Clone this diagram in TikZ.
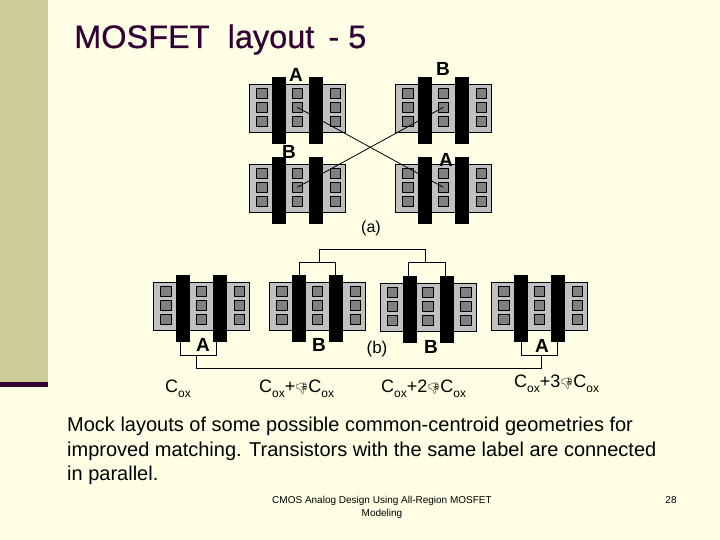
\documentclass[tikz,border=0pt]{standalone}
\usepackage{fontspec}
\setmainfont{Liberation Sans}
\newfontfamily\emojifont{Noto Emoji}
\newfontfamily\titlefont[FakeBold=0.6]{Liberation Sans}
\definecolor{bgc}{HTML}{FFFFE5}
\definecolor{barc}{HTML}{CCCC99}
\definecolor{darkp}{HTML}{330033}
\definecolor{plate}{HTML}{C0C0C0}
\definecolor{cont}{HTML}{808080}
\tikzset{
 plate/.style={draw=black,line width=.6pt,fill=plate,minimum width=96.4pt,minimum height=48.4pt,inner sep=0pt,outer sep=0pt},
 gatebar/.style={fill=black,minimum height=67pt,inner sep=0pt,outer sep=0pt},
 contact/.style={draw=black,line width=.6pt,fill=cont,minimum size=10.6pt,inner sep=0pt,outer sep=0pt},
 wire/.style={draw=black,line width=.8pt},
 lab/.style={inner sep=0pt,font=\fontsize{19}{19}\selectfont\bfseries},
 capl/.style={inner sep=0pt,anchor=base,font=\fontsize{18}{18}\selectfont},
 plain/.style={inner sep=0pt,font=\fontsize{16}{16}\selectfont},
}
\newcommand{\Tr}[3]{%
 \node[plate,anchor=north west] (#1) at (#2,#3) {};
 \foreach \cx/\nx in {12.4/l,48/m,86/r}{
  \foreach \cy/\ny in {9/t,23/c,37/b}{
   \node[contact] (#1\nx\ny) at ($(#1.north west)+(\cx,\cy)$) {};
  }
 }
 \node[gatebar,minimum width=14pt] (#1g) at ($(#1.north west)+(30,25.8)$) {};
 \node[gatebar,minimum width=14pt] (#1h) at ($(#1.north west)+(66.5,25.8)$) {};
}
\newcommand{\Cx}{C\raisebox{-.32em}{\fontsize{12}{12}\selectfont ox}}
\newcommand{\Dl}{{\emojifont\fontsize{11}{11}\selectfont\kern-.5pt\symbol{"1F44E}\kern-.5pt}}
\usetikzlibrary{calc}
\begin{document}
\begin{tikzpicture}[x=1pt,y=-1pt]
\useasboundingbox (0,0) rectangle (720,540);
\fill[bgc] (0,0) rectangle (720,540);
\fill[barc] (0,0) rectangle (48,382);
\fill[darkp] (0,382) rectangle (48,387);
\node[inner sep=0pt,anchor=base west,text=darkp,font=\fontsize{32.5}{33}\titlefont] (title) at (74,48) {MOSFET\ \ layout\kern5pt\ - 5};

\Tr{aa}{249.3}{84.3}
\Tr{ab}{395.3}{84.3}
\Tr{ac}{249.3}{164.3}
\Tr{ad}{395.3}{164.3}
\Tr{ba}{153.3}{282.3}
\Tr{bb}{269.3}{282.3}
\Tr{bc}{380}{283.3}
\Tr{bd}{491.3}{282.3}

\draw[wire] (aamc.center) -- (admc.center);
\draw[wire] (abmc.center) -- (acmc.center);

\coordinate (j1) at (180.3,355.3);
\coordinate (j2) at (216.3,355.3);
\coordinate (j3) at (521.3,355.3);
\coordinate (j4) at (557.3,355.3);
\coordinate (j5) at (196.7,355.3);
\coordinate (j6) at (541.7,355.3);
\coordinate (k1) at (299.3,262.3);
\coordinate (k2) at (335.7,262.3);
\coordinate (k3) at (408,262.3);
\coordinate (k4) at (445.7,262.3);
\coordinate (k5) at (319.3,262.3);
\coordinate (k6) at (425.3,262.3);
\draw[wire] (j1 |- bag.south) -- (j1) -- (j2) -- (j2 |- bah.south);
\draw[wire] (j3 |- bdg.south) -- (j3) -- (j4) -- (j4 |- bdh.south);
\draw[wire] (j5) -- ++(0,13) -| (j6);
\draw[wire] (k1 |- bbg.north) -- (k1) -- (k2) -- (k2 |- bbh.north);
\draw[wire] (k3 |- bcg.north) -- (k3) -- (k4) -- (k4 |- bch.north);
\draw[wire] (k5) -- ++(0,-13) -| (k6);

\node[lab] (l1) at (296,75) {A};
\node[lab] (l2) at (443,69) {B};
\node[lab] (l3) at (289,152) {B};
\node[lab] (l4) at (446,160) {A};
\node[plain] (l5) at (371,228) {(a)};
\node[lab] (l6) at (203,345) {A};
\node[lab] (l7) at (319,345) {B};
\node[plain,font=\fontsize{17}{17}\selectfont] (l8) at (377,349) {(b)};
\node[lab] (l9) at (431,347) {B};
\node[lab] (l10) at (542,346) {A};

\node[capl,anchor=base west] (c1) at (165,392) {\Cx};
\node[capl,anchor=base west] (c2) at (259,392) {\Cx+\Dl\Cx};
\node[capl,anchor=base west] (c3) at (381,392) {\Cx+2\Dl\Cx};
\node[capl,anchor=base west] (c4) at (514,387) {\Cx+3\Dl\Cx};

\node[inner sep=0pt,anchor=north west,align=left,font=\fontsize{20}{24.5}\selectfont] (para) at (67,417)
 {Mock layouts of some possible common-centroid geometries for\\improved matching. Transistors with the same label are connected\\in parallel.};
\node[inner sep=0pt,align=center,font=\fontsize{10}{13}\selectfont] (foot) at (382,507)
 {CMOS Analog Design Using All-Region MOSFET\\Modeling};
\node[inner sep=0pt,font=\fontsize{10}{12}\selectfont] (pg) at (671,500) {28};
\end{tikzpicture}
\end{document}
